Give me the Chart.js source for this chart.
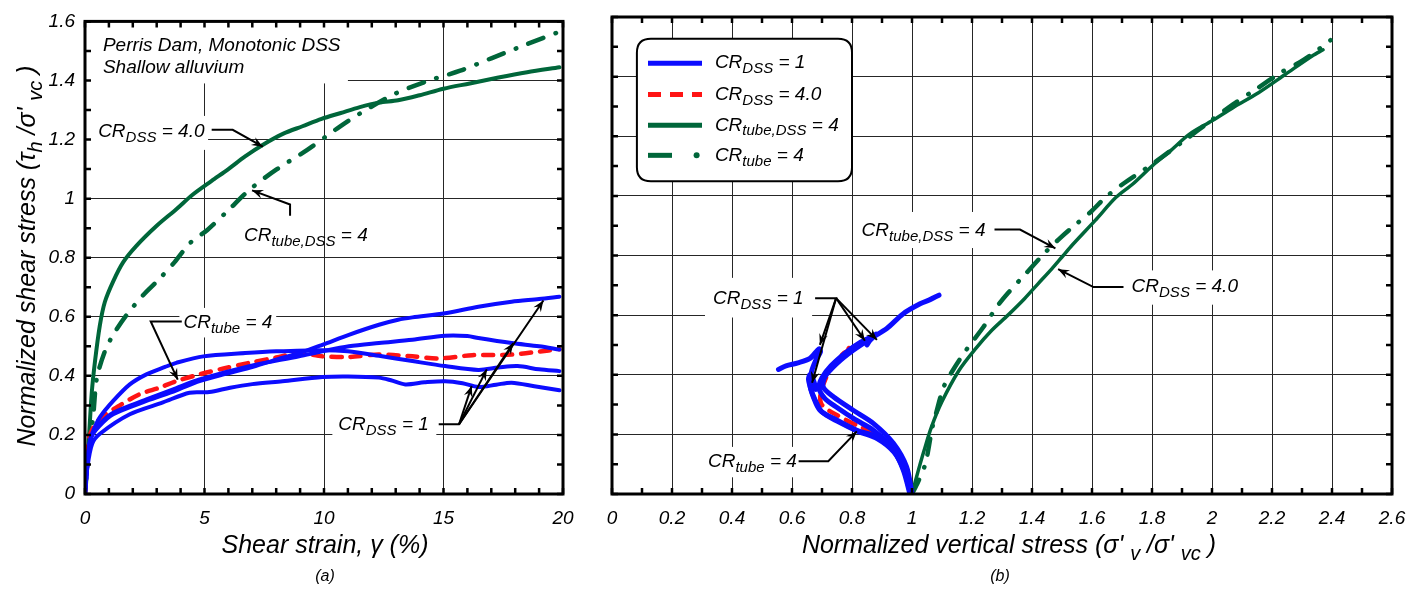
<!DOCTYPE html>
<html><head><meta charset="utf-8">
<script src="https://cdn.jsdelivr.net/npm/chart.js@4.4.1/dist/chart.umd.min.js"></script>
<style>
html,body{margin:0;padding:0;background:#fff;width:1422px;height:593px;overflow:hidden}
.w{position:absolute;top:0;height:593px}
#wl{left:0;width:600px}
#wr{left:590px;width:832px}
</style></head><body>
<div class="w" id="wl"><canvas id="cl"></canvas></div>
<div class="w" id="wr"><canvas id="cr"></canvas></div>
<script>
// ---------- DATA: panel (a) shear strain (%) vs normalized shear stress ----------
const strainGreenSolid = [0,0.05,0.14,0.28,0.42,0.62,0.83,1.18,1.6,2.15,3.0,3.82,4.5,5.3,6.0,6.7,7.5,8.3,9.1,9.9,10.7,11.5,12.3,13.1,14.0,15.0,16.1,17.3,18.5,19.85];
const stressGreenSolid = [0,0.08,0.16,0.34,0.45,0.57,0.65,0.72,0.785,0.84,0.908,0.964,1.013,1.06,1.1,1.143,1.185,1.22,1.245,1.27,1.29,1.31,1.325,1.333,1.35,1.372,1.39,1.41,1.428,1.445];
const strainGreenDash = [0,0.1,0.22,0.35,0.49,0.83,1.18,1.74,2.43,3.05,3.75,4.4,5.12,5.9,6.9,8.0,9.3,10.56,11.5,12.97,14.4,15.7,17.0,18.4,19.85];
const stressGreenDash = [0,0.1,0.18,0.27,0.39,0.483,0.539,0.606,0.673,0.723,0.785,0.85,0.894,0.953,1.031,1.098,1.165,1.238,1.288,1.355,1.4,1.433,1.475,1.52,1.565];
const strainBlue1 = [0,0.1,0.25,0.6,1.18,2.57,3.8,4.79,5.8,6.875,8.0,8.96,9.93,11.04,12.3,13.1,13.7,15.07,16.46,17.85,19.0,19.85];
const stressBlue1 = [0,0.1,0.19,0.23,0.27,0.315,0.35,0.382,0.405,0.427,0.455,0.477,0.505,0.539,0.573,0.59,0.598,0.612,0.634,0.651,0.66,0.668];
const strainBlue2 = [0,0.1,0.25,0.6,1.18,2.57,3.8,4.79,6.875,8.96,9.93,11.04,12.3,13.7,15.07,16.0,16.46,17.85,19.0,19.85];
const stressBlue2 = [0,0.1,0.19,0.235,0.275,0.32,0.358,0.388,0.433,0.466,0.483,0.5,0.511,0.522,0.536,0.535,0.528,0.511,0.5,0.489];
const strainBlue3 = [0,0.1,0.2,0.35,0.625,1.18,1.875,2.57,3.35,3.82,4.95,6.7,8.0,9.93,11.0,12.3,13.7,15.07,16.46,17.3,18.1,19.0,19.85];
const stressBlue3 = [0,0.1,0.18,0.215,0.26,0.315,0.371,0.405,0.43,0.444,0.466,0.477,0.483,0.487,0.483,0.468,0.45,0.433,0.42,0.428,0.433,0.422,0.416];
const strainBlue4 = [0,0.1,0.3,0.625,1.875,3.26,4.375,5.2,6.07,7.0,8.26,9.93,11.0,12.3,12.8,13.4,14.2,15.07,15.8,16.46,17.2,17.85,18.8,19.85];
const stressBlue4 = [0,0.09,0.17,0.204,0.27,0.31,0.343,0.345,0.36,0.372,0.382,0.396,0.398,0.394,0.385,0.371,0.378,0.382,0.375,0.362,0.37,0.377,0.365,0.351];
const strainRed = [0,0.1,0.21,0.625,1.46,2.29,3.125,3.82,4.79,5.8,6.875,8.0,8.96,9.93,11.04,12.3,13.7,14.8,16.2,17.85,19.4,19.85];
const stressRed = [0,0.12,0.2,0.255,0.3,0.338,0.36,0.382,0.405,0.425,0.444,0.462,0.477,0.466,0.464,0.472,0.466,0.459,0.47,0.472,0.486,0.49];

// ---------- DATA: panel (b) normalized vertical stress vs normalized shear stress ----------
const vertGreenSolid = [1.0,1.02,1.04,1.065,1.1,1.157,1.21,1.266,1.32,1.375,1.42,1.466,1.5,1.535,1.61,1.68,1.736,1.8,1.86,1.925,2.0,2.07,2.155,2.245,2.335,2.37];
const shearGreenSolid = [0,0.075,0.145,0.225,0.31,0.415,0.485,0.549,0.6,0.655,0.705,0.755,0.795,0.836,0.917,0.995,1.04,1.1,1.15,1.207,1.252,1.296,1.346,1.408,1.47,1.49];
const vertGreenDash = [1.0,1.02,1.045,1.067,1.08,1.106,1.143,1.18,1.238,1.283,1.32,1.38,1.44,1.49,1.535,1.6,1.645,1.71,1.8,1.9,2.0,2.07,2.15,2.23,2.29,2.34,2.395];
const shearGreenDash = [0,0.04,0.103,0.22,0.27,0.36,0.426,0.482,0.56,0.628,0.674,0.74,0.806,0.855,0.895,0.95,0.995,1.045,1.106,1.18,1.255,1.307,1.36,1.414,1.447,1.48,1.522];
const vertBlue1 = [1.0,0.982,0.938,0.871,0.804,0.738,0.704,0.71,0.749,0.804,0.871,0.916,0.971,1.027,1.06,1.09];
const shearBlue1 = [0,0.091,0.17,0.237,0.281,0.326,0.359,0.393,0.437,0.482,0.527,0.555,0.605,0.638,0.652,0.667];
const vertBlue2 = [1.0,0.975,0.93,0.87,0.81,0.75,0.71,0.69,0.7,0.73,0.78,0.83,0.87,0.88,0.86,0.85];
const shearBlue2 = [0,0.085,0.16,0.215,0.25,0.29,0.32,0.355,0.39,0.43,0.475,0.51,0.53,0.536,0.515,0.5];
const vertBlue3 = [0.993,0.971,0.938,0.882,0.816,0.749,0.693,0.671,0.66,0.665,0.68,0.695,0.69,0.66,0.62,0.58,0.555];
const shearBlue3 = [0,0.08,0.147,0.192,0.214,0.248,0.281,0.326,0.365,0.41,0.45,0.477,0.487,0.455,0.44,0.43,0.418];
const vertBlue4 = [0.995,0.975,0.94,0.885,0.82,0.755,0.7,0.675,0.662,0.655,0.66,0.672,0.68];
const shearBlue4 = [0,0.075,0.14,0.185,0.21,0.242,0.275,0.32,0.355,0.385,0.4,0.38,0.351];
const vertRed = [1.0,0.982,0.938,0.882,0.827,0.749,0.699,0.695,0.71,0.727,0.749,0.771,0.785,0.79,0.775,0.8];
const shearRed = [0,0.069,0.147,0.2,0.225,0.265,0.3,0.337,0.382,0.415,0.448,0.471,0.48,0.49,0.485,0.49];

// ---------- TICKS ----------
const leftXTicks = [0,5,10,15,20];
const leftXLabels = ['0','5','10','15','20'];
const yTicks = [0,0.2,0.4,0.6,0.8,1.0,1.2,1.4,1.6];
const leftYLabels = ['0','0.2','0.4','0.6','0.8','1','1.2','1.4','1.6'];
const rightXTicks = [0,0.2,0.4,0.6,0.8,1.0,1.2,1.4,1.6,1.8,2.0,2.2,2.4,2.6];
const rightXLabels = ['0','0.2','0.4','0.6','0.8','1','1.2','1.4','1.6','1.8','2','2.2','2.4','2.6'];

// ---------- LABELS ----------
const legendLabels = ['CR_{DSS} = 1','CR_{DSS} = 4.0','CR_{tube,DSS} = 4','CR_{tube} = 4'];

const FONT = '"Liberation Sans", Arial, Helvetica, sans-serif';
const BLUE = '#0c0cff', RED = '#ff1414', GREEN = '#00663a';
const ANN = 19;

function pairs(xs, ys){ return xs.map((x,i)=>({x:x, y:ys[i]})); }
function parseRich(s){
  const out=[]; const re=/_\{([^}]*)\}|([^_]+)/g; let m;
  while((m=re.exec(s))){ if(m[1]!==undefined) out.push({t:m[1],s:true}); else out.push({t:m[2],s:false}); }
  return out;
}
function richText(ctx, s, x, y, size, align){
  const parts = parseRich(s); const sub = Math.round(size*0.8);
  let w=0;
  parts.forEach(p=>{ ctx.font='italic '+(p.s?sub:size)+'px '+FONT; p.w=ctx.measureText(p.t).width; w+=p.w; });
  let cx = align==='center' ? x-w/2 : (align==='right' ? x-w : x);
  ctx.textBaseline='middle'; ctx.textAlign='left'; ctx.fillStyle='#000';
  parts.forEach(p=>{ ctx.font='italic '+(p.s?sub:size)+'px '+FONT; ctx.fillText(p.t, cx, y+(p.s?size*0.32:0)); cx+=p.w; });
  return w;
}
function drawArrow(ctx, pts){
  ctx.save(); ctx.strokeStyle='#000'; ctx.fillStyle='#000'; ctx.lineWidth=2; ctx.lineJoin='miter';
  ctx.beginPath(); ctx.moveTo(pts[0][0],pts[0][1]);
  for(let i=1;i<pts.length;i++) ctx.lineTo(pts[i][0],pts[i][1]);
  ctx.stroke();
  const [x1,y1]=pts[pts.length-2], [x2,y2]=pts[pts.length-1];
  const a=Math.atan2(y2-y1,x2-x1), L=12, sp=0.38;
  ctx.beginPath(); ctx.moveTo(x2,y2);
  ctx.lineTo(x2-L*Math.cos(a-sp), y2-L*Math.sin(a-sp));
  ctx.lineTo(x2-L*0.6*Math.cos(a), y2-L*0.6*Math.sin(a));
  ctx.lineTo(x2-L*Math.cos(a+sp), y2-L*Math.sin(a+sp));
  ctx.closePath(); ctx.fill();
  ctx.restore();
}

function decoPlugin(deco){
  return {
    id:'deco',
    beforeDatasetsDraw(chart){
      const ctx=chart.ctx, xs=chart.scales.x, ys=chart.scales.y;
      ctx.save(); ctx.fillStyle='#fff';
      deco.boxes.forEach(b=>{
        const x0=xs.getPixelForValue(b[0]), x1=xs.getPixelForValue(b[1]);
        const y0=ys.getPixelForValue(b[2]), y1=ys.getPixelForValue(b[3]);
        ctx.fillRect(Math.min(x0,x1),Math.min(y0,y1),Math.abs(x1-x0),Math.abs(y1-y0));
      });
      ctx.restore();
    },
    afterDraw(chart){
      const ctx=chart.ctx, ca=chart.chartArea, xs=chart.scales.x, ys=chart.scales.y;
      const P=(x,y)=>[xs.getPixelForValue(x), ys.getPixelForValue(y)];
      ctx.save();
      ctx.strokeStyle='#000'; ctx.lineWidth=2.5;
      const nx=Math.round((xs.max-xs.min)/deco.minorX);
      for(let i=0;i<=nx;i++){
        const px=xs.getPixelForValue(xs.min+i*deco.minorX);
        ctx.beginPath(); ctx.moveTo(px,ca.bottom); ctx.lineTo(px,ca.bottom-6);
        ctx.moveTo(px,ca.top); ctx.lineTo(px,ca.top+6); ctx.stroke();
      }
      const ny=Math.round((ys.max-ys.min)/deco.minorY);
      for(let i=0;i<=ny;i++){
        const py=ys.getPixelForValue(ys.min+i*deco.minorY);
        ctx.beginPath(); ctx.moveTo(ca.left,py); ctx.lineTo(ca.left+6,py);
        ctx.moveTo(ca.right,py); ctx.lineTo(ca.right-6,py); ctx.stroke();
      }
      ctx.lineWidth=3; ctx.strokeRect(ca.left,ca.top,ca.right-ca.left,ca.bottom-ca.top);
      deco.texts.forEach(t=>{ const p=P(t.x,t.y); richText(ctx,t.s,p[0],p[1],t.size||ANN,t.align||'left'); });
      deco.arrows.forEach(a=>drawArrow(ctx, a.map(q=>P(q[0],q[1]))));
      if(deco.legend){
        const L=deco.legend; const a=P(L.box[0],L.box[2]), b=P(L.box[1],L.box[3]);
        const r=14, x0=a[0], y0=a[1], x1=b[0], y1=b[1];
        ctx.fillStyle='#fff'; ctx.strokeStyle='#000'; ctx.lineWidth=2;
        ctx.beginPath(); ctx.moveTo(x0+r,y0); ctx.lineTo(x1-r,y0); ctx.quadraticCurveTo(x1,y0,x1,y0+r);
        ctx.lineTo(x1,y1-r); ctx.quadraticCurveTo(x1,y1,x1-r,y1); ctx.lineTo(x0+r,y1);
        ctx.quadraticCurveTo(x0,y1,x0,y1-r); ctx.lineTo(x0,y0+r); ctx.quadraticCurveTo(x0,y0,x0+r,y0);
        ctx.closePath(); ctx.fill(); ctx.stroke();
        L.rows.forEach((row,i)=>{
          const ds=chart.data.datasets[L.dsIndex[i]];
          const s=P(L.sample[0],row), e=P(L.sample[1],row);
          ctx.save(); ctx.strokeStyle=ds.borderColor; ctx.lineWidth=5;
          ctx.lineCap='butt'; ctx.setLineDash(L.dash[i]);
          ctx.beginPath(); ctx.moveTo(s[0],s[1]); ctx.lineTo(e[0],e[1]); ctx.stroke();
          if(L.dot[i]){ ctx.setLineDash([]); ctx.fillStyle=ds.borderColor; ctx.beginPath(); ctx.arc(s[0]+(e[0]-s[0])*0.9, s[1], 3, 0, Math.PI*2); ctx.fill(); }
          ctx.restore();
          const tp=P(L.textX,row); richText(ctx, legendLabels[i], tp[0], tp[1], ANN, 'left');
        });
      }
      deco.titles.forEach(t=>{
        if(t.rot){ ctx.save(); ctx.translate(t.x,t.y); ctx.rotate(-Math.PI/2); richText(ctx,t.s,0,0,t.size,'center'); ctx.restore(); }
        else richText(ctx,t.s,t.x,t.y,t.size,'center');
      });
      ctx.restore();
    }
  };
}

function scaleOpts(xTicks, xLabels, xMin, xMax, yLabels, yWidth){
  const tickFont={family:FONT,size:19,style:'italic'};
  return {
    x:{type:'linear',min:xMin,max:xMax,
       afterBuildTicks:s=>{s.ticks=xTicks.map(v=>({value:v}));},
       afterFit:s=>{s.height=99;},
       grid:{color:'#262626',lineWidth:1,drawTicks:false},border:{display:false},
       ticks:{padding:13,color:'#000',font:tickFont,maxRotation:0,autoSkip:false,callback:(v,i)=>xLabels[i]}},
    y:{type:'linear',min:0,max:1.6,
       afterBuildTicks:s=>{s.ticks=yTicks.map(v=>({value:v}));},
       afterFit:s=>{s.width=yWidth;},
       grid:{color:'#262626',lineWidth:1,drawTicks:false},border:{display:false},
       ticks:{display:!!yLabels,padding:10,color:'#000',font:tickFont,autoSkip:false,callback:(v,i)=>yLabels?yLabels[i]:''}}
  };
}
function ds(xs,ys,color,width,dash,cap){
  return {data:pairs(xs,ys),showLine:true,pointRadius:0,borderColor:color,backgroundColor:color,
          borderWidth:width,borderDash:dash||[],borderCapStyle:cap||'round',borderJoinStyle:'round',tension:0.3,fill:false};
}
const DASHDOT=[16,13,0.5,13], REDDASH=[10,9];

// ---------- Panel (a) ----------
const decoLeft = {
  minorX:1, minorY:0.1,
  boxes:[[0,11.0,1.6,1.39],[0,5.15,1.28,1.165],[3.95,8.0,0.63,0.53],[10.35,14.7,0.295,0.18]],
  texts:[
    {s:'Perris Dam, Monotonic DSS',x:0.75,y:1.516,size:19},
    {s:'Shallow alluvium',x:0.75,y:1.444,size:19},
    {s:'CR_{DSS} = 4.0',x:0.55,y:1.228},
    {s:'CR_{tube,DSS} = 4',x:6.65,y:0.876},
    {s:'CR_{tube} = 4',x:4.12,y:0.58},
    {s:'CR_{DSS} = 1',x:10.6,y:0.236}
  ],
  arrows:[
    [[5.3,1.233],[6.18,1.233],[7.44,1.176]],
    [[8.58,0.942],[8.58,0.98],[6.99,1.028]],
    [[4.05,0.584],[2.75,0.584],[3.88,0.387]],
    [[14.8,0.236],[15.65,0.236],[19.18,0.655]],
    [[15.65,0.236],[17.92,0.511]],
    [[15.65,0.236],[16.81,0.422]],
    [[15.65,0.236],[16.18,0.366]]
  ],
  titles:[
    {s:'Shear strain, γ (%)',x:325,y:546,size:25},
    {s:'(a)',x:325,y:577,size:16},
    {s:'Normalized shear stress (τ_{h} /σ\' _{vc} )',x:28,y:256,size:25,rot:true}
  ]
};
new Chart(document.getElementById('cl'),{
  type:'scatter',
  data:{datasets:[
    ds(strainBlue1,stressBlue1,BLUE,4),
    ds(strainBlue2,stressBlue2,BLUE,4),
    ds(strainBlue3,stressBlue3,BLUE,4),
    ds(strainBlue4,stressBlue4,BLUE,4),
    ds(strainRed,stressRed,RED,4.5,REDDASH),
    ds(strainGreenSolid,stressGreenSolid,GREEN,4),
    ds(strainGreenDash,stressGreenDash,GREEN,4.5,DASHDOT)
  ]},
  options:{responsive:true,maintainAspectRatio:false,animation:false,devicePixelRatio:1,
    layout:{padding:{left:0,right:37,top:17,bottom:0}},
    plugins:{legend:{display:false},tooltip:{enabled:false}},
    scales:scaleOpts(leftXTicks,leftXLabels,0,20,leftYLabels,85)},
  plugins:[decoPlugin(decoLeft)]
});

// ---------- Panel (b) ----------
const decoRight = {
  minorX:0.1, minorY:0.1,
  boxes:[[0.81,1.277,0.946,0.825],[1.71,2.11,0.75,0.635],[0.31,0.667,0.725,0.592],[0.305,0.627,0.158,0.056]],
  texts:[
    {s:'CR_{tube,DSS} = 4',x:0.832,y:0.883},
    {s:'CR_{DSS} = 4.0',x:1.732,y:0.694},
    {s:'CR_{DSS} = 1',x:0.337,y:0.655},
    {s:'CR_{tube} = 4',x:0.32,y:0.108}
  ],
  arrows:[
    [[1.275,0.887],[1.36,0.887],[1.478,0.824]],
    [[1.705,0.694],[1.605,0.694],[1.487,0.754]],
    [[0.677,0.657],[0.747,0.657],[0.693,0.5]],
    [[0.747,0.657],[0.667,0.373]],
    [[0.747,0.657],[0.843,0.514]],
    [[0.747,0.657],[0.883,0.517]],
    [[0.622,0.11],[0.721,0.11],[0.816,0.21]]
  ],
  legend:{box:[0.083,0.8,1.527,1.049],sample:[0.12,0.3],textX:0.343,rows:[1.445,1.34,1.237,1.136],
          dsIndex:[0,4,5,6],dash:[[],[13,9],[],[24,100]],dot:[false,false,false,true]},
  titles:[
    {s:'Normalized vertical stress (σ\' _{v} /σ\' _{vc} )',x:419,y:546,size:25},
    {s:'(b)',x:410,y:577,size:16}
  ]
};
new Chart(document.getElementById('cr'),{
  type:'scatter',
  data:{datasets:[
    ds(vertBlue1,shearBlue1,BLUE,5),
    ds(vertBlue2,shearBlue2,BLUE,5),
    ds(vertBlue3,shearBlue3,BLUE,5),
    ds(vertBlue4,shearBlue4,BLUE,5),
    ds(vertRed,shearRed,RED,4.5,REDDASH),
    ds(vertGreenSolid,shearGreenSolid,GREEN,3.5),
    ds(vertGreenDash,shearGreenDash,GREEN,4.5,DASHDOT)
  ]},
  options:{responsive:true,maintainAspectRatio:false,animation:false,devicePixelRatio:1,
    layout:{padding:{left:0,right:30,top:17,bottom:0}},
    plugins:{legend:{display:false},tooltip:{enabled:false}},
    scales:scaleOpts(rightXTicks,rightXLabels,0,2.6,null,22)},
  plugins:[decoPlugin(decoRight)]
});
</script></body></html>
